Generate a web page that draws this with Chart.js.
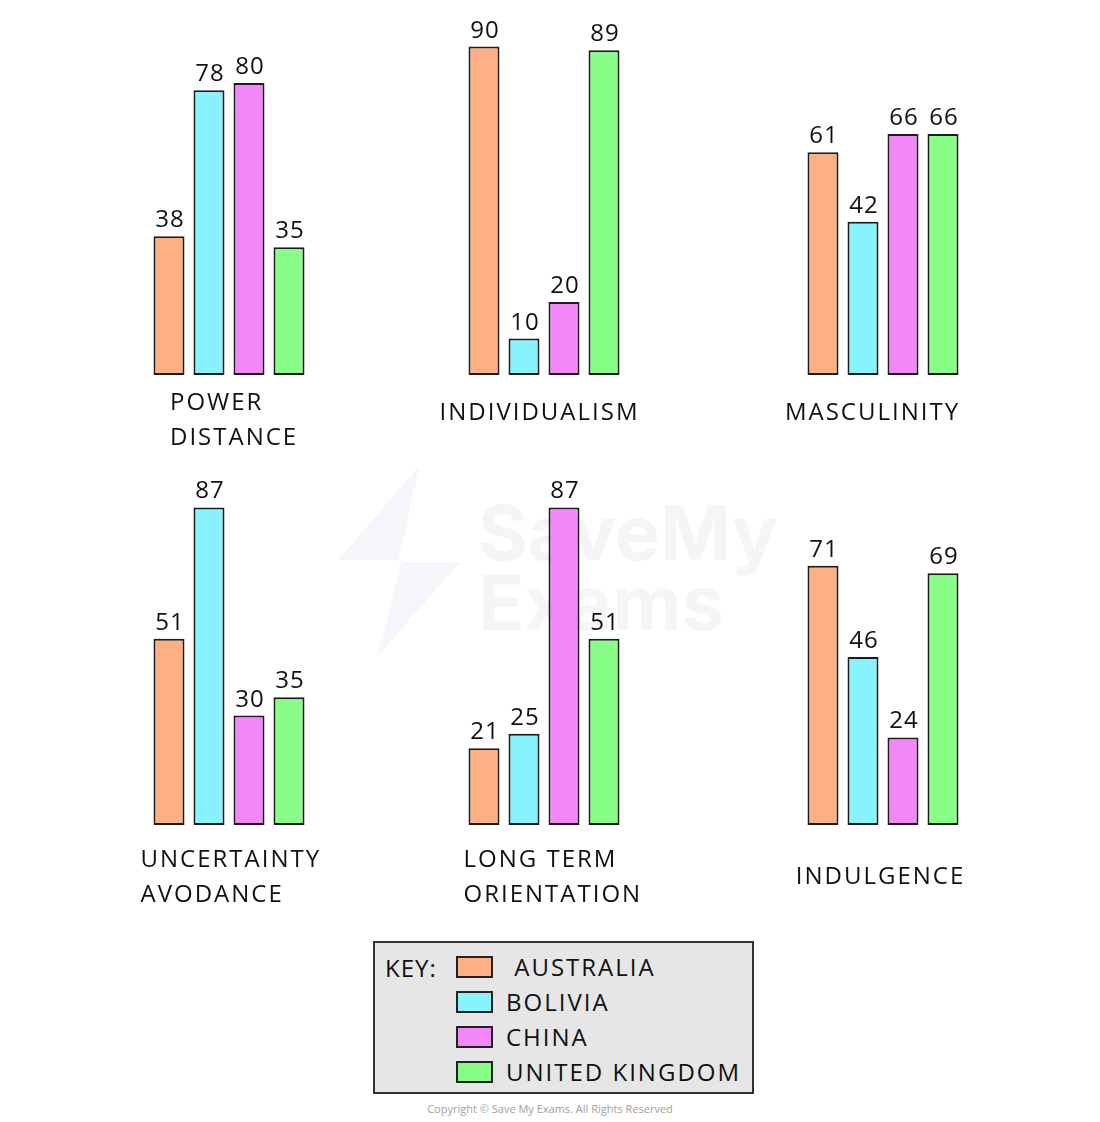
<!DOCTYPE html>
<html>
<head>
<meta charset="utf-8">
<script src="https://cdn.jsdelivr.net/npm/chart.js@4"></script>
<style>
  body { margin: 0; background: #fff; width: 1100px; height: 1122px; position: relative; overflow: hidden; font-family: "Open Sans", sans-serif; }
  #mark { position: absolute; left: 0; top: 0; }
  .panel { position: absolute; }
  .key {
    position: absolute; left: 373px; top: 941px; width: 377px; height: 149px;
    background: #e6e6e6; border: 2px solid #333; color: #111;
    font-size: 24px; letter-spacing: 2px;
  }
  .key .title { position: absolute; left: 10px; top: 8px; letter-spacing: 1px; }
  .key .row { position: absolute; left: 81px; height: 35px; display: flex; align-items: center; }
  .key .sw { width: 33px; height: 18px; border: 2px solid #222; margin-right: 13px; }
  .copy { position: absolute; left: 0; width: 1100px; top: 1101px; text-align: center; font-size: 11px; color: #a0a0a0; letter-spacing: 0; }
</style>
</head>
<body>
<svg id="mark" width="1100" height="1122">
  <polygon points="420,465 338,560 402,560 377,657 460,562 398,562" fill="#f5f6f9"/>
  <text x="478" y="560" font-family="Inter, sans-serif" font-weight="700" font-size="76" fill="#f5f5f7">SaveMy</text>
  <text x="478" y="630" font-family="Inter, sans-serif" font-weight="700" font-size="76" fill="#f5f5f7">Exams</text>
</svg>

<div class="key" id="key"><div class="title">KEY:</div></div>
<div class="copy">Copyright © Save My Exams. All Rights Reserved</div>

<script>
// values
const countries = ['AUSTRALIA', 'BOLIVIA', 'CHINA', 'UNITED KINGDOM'];
const dimensions = [
  ['POWER', 'DISTANCE'],
  ['INDIVIDUALISM'],
  ['MASCULINITY'],
  ['UNCERTAINTY', 'AVODANCE'],
  ['LONG TERM', 'ORIENTATION'],
  ['INDULGENCE']
];
const australia     = [38, 90, 61, 51, 21, 71];
const bolivia       = [78, 10, 42, 87, 25, 46];
const china         = [80, 20, 66, 30, 87, 24];
const unitedKingdom = [35, 89, 66, 35, 51, 69];

const colours = ['#fdb083', '#88f3fc', '#f287f8', '#88fd88'];
const series = [australia, bolivia, china, unitedKingdom];

// layout of the six little charts
const groupLeft = [148.5, 463.5, 802.5];
const baselines = [375, 825];
const labelStyle = [
  { dx: 21,    align: 'left',   dy: [28, 63] },
  { dx: 75.5,  align: 'center', dy: [38] },
  { dx: 69.5,  align: 'center', dy: [38] },
  { dx: -8.5,  align: 'left',   dy: [35, 70] },
  { dx: -0.5,  align: 'left',   dy: [35, 70] },
  { dx: 77.5,  align: 'center', dy: [52] }
];

const PAD = 60;
const FONT = '24px "Open Sans", sans-serif';

// draws the number over each bar and the dimension name underneath
const barText = {
  id: 'barText',
  afterDatasetsDraw(chart, args, opts) {
    const ctx = chart.ctx;
    ctx.save();
    ctx.fillStyle = '#111';
    ctx.font = FONT;
    ctx.letterSpacing = '1px';
    ctx.textAlign = 'center';
    ctx.textBaseline = 'alphabetic';
    chart.data.datasets.forEach((ds, i) => {
      const bar = chart.getDatasetMeta(i).data[0];
      ctx.fillText(ds.data[0], bar.x + 1, bar.y - 9);
    });

    ctx.letterSpacing = '2px';
    ctx.textBaseline = 'middle';
    ctx.textAlign = opts.align;
    const base = chart.scales.y.getPixelForValue(0);
    opts.lines.forEach((line, k) => {
      ctx.fillText(line, chart.chartArea.left + opts.dx, base + opts.dy[k]);
    });
    ctx.restore();
  }
};

dimensions.forEach((dim, p) => {
  const col = p % 3, row = Math.floor(p / 3);
  const cv = document.createElement('canvas');
  cv.className = 'panel';
  cv.width = 160 + PAD * 2;
  cv.height = 460;
  cv.style.left = (groupLeft[col] - PAD) + 'px';
  cv.style.top = (baselines[row] - 375) + 'px';
  document.body.appendChild(cv);

  new Chart(cv, {
    type: 'bar',
    data: {
      labels: [dim.join(' ')],
      datasets: countries.map((c, i) => ({
        label: c,
        data: [series[i][p]],
        backgroundColor: colours[i],
        borderColor: '#1c1c1c',
        borderWidth: 2,
        borderSkipped: false,
        categoryPercentage: 1,
        barPercentage: 0.775
      }))
    },
    options: {
      responsive: false,
      animation: false,
      layout: { padding: { left: PAD, right: PAD, top: 10, bottom: 85 } },
      scales: {
        x: { display: false },
        y: { display: false, min: 0, max: 100 }
      },
      plugins: {
        legend: { display: false },
        tooltip: { enabled: false },
        barText: { lines: dim, dx: labelStyle[p].dx, align: labelStyle[p].align, dy: labelStyle[p].dy }
      }
    },
    plugins: [barText]
  });
});

// key box
const key = document.getElementById('key');
countries.forEach((c, i) => {
  const row = document.createElement('div');
  row.className = 'row';
  row.style.top = (6 + i * 35) + 'px';
  row.innerHTML = '<div class="sw" style="background:' + colours[i] + '"></div><span>' +
    (i === 0 ? '&nbsp;' : '') + c + '</span>';
  key.appendChild(row);
});
</script>
</body>
</html>
